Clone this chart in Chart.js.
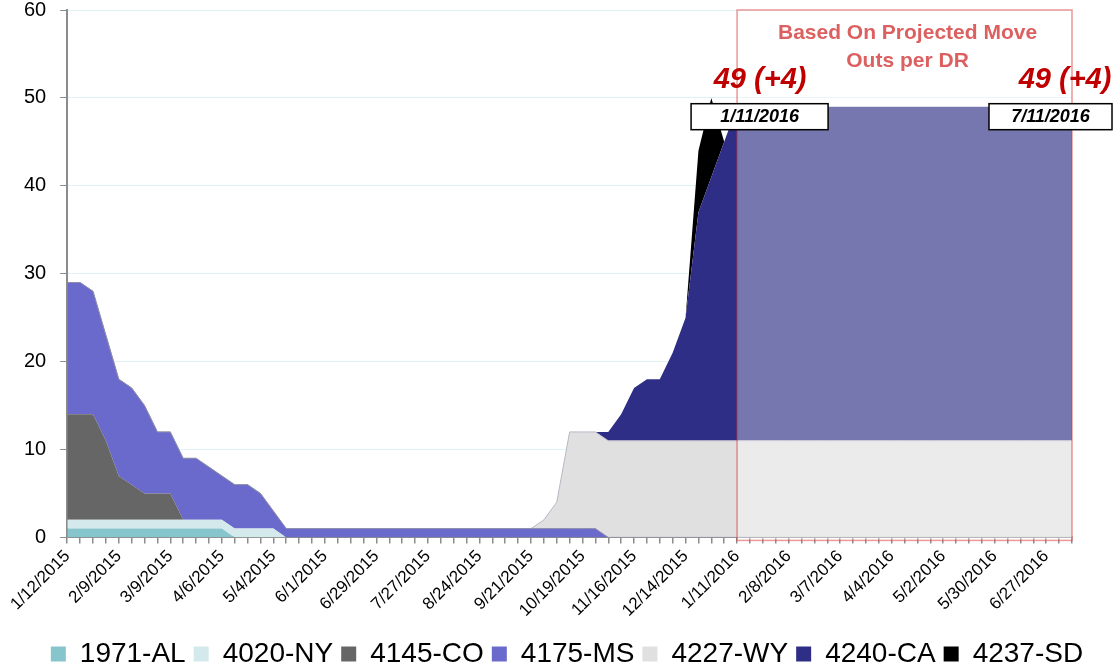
<!DOCTYPE html>
<html>
<head>
<meta charset="utf-8">
<title>Move Outs</title>
<script src="https://cdn.jsdelivr.net/npm/chart.js@4.4.1/dist/chart.umd.min.js"></script>
<style>
    html, body { margin: 0; padding: 0; background: #fff; }
    #wrap { width: 1114px; height: 670px; }
</style>
</head>
<body>
<div id="wrap"><canvas id="moveOutChart" width="1114" height="670"></canvas></div>
<script>
// Weekly categories (one per week)
const weeks = [
    '1/12/2015','1/19/2015','1/26/2015','2/2/2015','2/9/2015','2/16/2015','2/23/2015','3/2/2015','3/9/2015','3/16/2015',
    '3/23/2015','3/30/2015','4/6/2015','4/13/2015','4/20/2015','4/27/2015','5/4/2015','5/11/2015','5/18/2015','5/25/2015',
    '6/1/2015','6/8/2015','6/15/2015','6/22/2015','6/29/2015','7/6/2015','7/13/2015','7/20/2015','7/27/2015','8/3/2015',
    '8/10/2015','8/17/2015','8/24/2015','8/31/2015','9/7/2015','9/14/2015','9/21/2015','9/28/2015','10/5/2015','10/12/2015',
    '10/19/2015','10/26/2015','11/2/2015','11/9/2015','11/16/2015','11/23/2015','11/30/2015','12/7/2015','12/14/2015','12/21/2015',
    '12/28/2015','1/4/2016','1/11/2016','1/18/2016','1/25/2016','2/1/2016','2/8/2016','2/15/2016','2/22/2016','2/29/2016',
    '3/7/2016','3/14/2016','3/21/2016','3/28/2016','4/4/2016','4/11/2016','4/18/2016','4/25/2016','5/2/2016','5/9/2016',
    '5/16/2016','5/23/2016','5/30/2016','6/6/2016','6/13/2016','6/20/2016','6/27/2016','7/4/2016','7/11/2016'
];

// Series values (weekly counts)
const al = [
    1,1,1,1,1,1,1,1,1,1,
    1,1,1,0,0,0,0,0,0,0,
    0,0,0,0,0,0,0,0,0,0,
    0,0,0,0,0,0,0,0,0,0,
    0,0,0,0,0,0,0,0,0,0,
    0,0,0,0,0,0,0,0,0,0,
    0,0,0,0,0,0,0,0,0,0,
    0,0,0,0,0,0,0,0,0
];
const ny = [
    1,1,1,1,1,1,1,1,1,1,
    1,1,1,1,1,1,1,0,0,0,
    0,0,0,0,0,0,0,0,0,0,
    0,0,0,0,0,0,0,0,0,0,
    0,0,0,0,0,0,0,0,0,0,
    0,0,0,0,0,0,0,0,0,0,
    0,0,0,0,0,0,0,0,0,0,
    0,0,0,0,0,0,0,0,0
];
const co = [
    12,12,12,9,5,4,3,3,3,0,
    0,0,0,0,0,0,0,0,0,0,
    0,0,0,0,0,0,0,0,0,0,
    0,0,0,0,0,0,0,0,0,0,
    0,0,0,0,0,0,0,0,0,0,
    0,0,0,0,0,0,0,0,0,0,
    0,0,0,0,0,0,0,0,0,0,
    0,0,0,0,0,0,0,0,0
];
const ms = [
    15,15,14,12,11,11,10,7,7,7,
    7,6,5,5,5,4,2,1,1,1,
    1,1,1,1,1,1,1,1,1,1,
    1,1,1,1,1,1,1,1,1,1,
    1,1,0,0,0,0,0,0,0,0,
    0,0,0,0,0,0,0,0,0,0,
    0,0,0,0,0,0,0,0,0,0,
    0,0,0,0,0,0,0,0,0
];
const wy = [
    0,0,0,0,0,0,0,0,0,0,
    0,0,0,0,0,0,0,0,0,0,
    0,0,0,0,0,0,0,0,0,0,
    0,0,0,0,0,0,0,1,3,11,
    11,11,11,11,11,11,11,11,11,11,
    11,11,11,11,11,11,11,11,11,11,
    11,11,11,11,11,11,11,11,11,11,
    11,11,11,11,11,11,11,11,11
];
const ca = [
    0,0,0,0,0,0,0,0,0,0,
    0,0,0,0,0,0,0,0,0,0,
    0,0,0,0,0,0,0,0,0,0,
    0,0,0,0,0,0,0,0,0,0,
    0,0,1,3,6,7,7,10,14,26,
    30,34,38,38,38,38,38,38,38,38,
    38,38,38,38,38,38,38,38,38,38,
    38,38,38,38,38,38,38,38,38
];
const sd = [
    0,0,0,0,0,0,0,0,0,0,
    0,0,0,0,0,0,0,0,0,0,
    0,0,0,0,0,0,0,0,0,0,
    0,0,0,0,0,0,0,0,0,0,
    0,0,0,0,0,0,0,0,0,7,
    9,0,0,0,0,0,0,0,0,0,
    0,0,0,0,0,0,0,0,0,0,
    0,0,0,0,0,0,0,0,0
];

const seriesNames = ['1971-AL', '4020-NY', '4145-CO', '4175-MS', '4227-WY', '4240-CA', '4237-SD'];
const yTicks = [0, 10, 20, 30, 40, 50, 60];

// Projection window + callouts
const projStart = 52;             // index of 1/11/2016
const projEnd = weeks.length - 1; // 7/11/2016
const calloutTotal = '49 (+4)';

const FONT = '"Liberation Sans", Arial, sans-serif';

const fills = ['#86c5cc', '#d4e9ec', '#666666', '#6a6acc', '#e0e0e0', '#2e2e86', '#000000'];
const edges = ['transparent', 'transparent', 'transparent', '#8e8eaa', '#b8b8c6', 'transparent', 'transparent'];
const series = [al, ny, co, ms, wy, ca, sd];

const datasets = series.map((data, i) => ({
    label: seriesNames[i],
    data: data,
    backgroundColor: fills[i],
    borderColor: edges[i],
    borderWidth: edges[i] === 'transparent' ? 0 : 1,
    fill: i === 0 ? 'origin' : '-1',
    pointRadius: 0,
    tension: 0
}));

// Draws the lightened "projected" window over the areas
const projectionBox = {
    id: 'projectionBox',
    afterLayout(chart) {
        // nudge legend to sit under the plot like the original
        const lg = chart.legend;
        lg.left += 26; lg.right += 26;
        lg.top += 8; lg.bottom += 8;
    },
    afterDatasetsDraw(chart) {
        const { ctx, scales: { x, y } } = chart;
        const left = x.getPixelForValue(projStart);
        const right = x.getPixelForValue(projEnd);
        const top = y.getPixelForValue(60);
        const bottom = y.getPixelForValue(0) + 3;
        ctx.save();
        ctx.fillStyle = 'rgba(255,255,255,0.35)';
        ctx.fillRect(left, top, right - left, bottom - top);
        ctx.strokeStyle = 'rgba(220,50,50,0.5)';
        ctx.lineWidth = 1.5;
        ctx.strokeRect(left, top, right - left, bottom - top);

        ctx.fillStyle = '#dc6060';
        ctx.font = 'bold 21px ' + FONT;
        ctx.textAlign = 'center';
        ctx.textBaseline = 'middle';
        const cx = (left + right) / 2 + 3;
        ctx.fillText('Based On Projected Move', cx, top + 23);
        ctx.fillText('Outs per DR', cx, top + 51);
        ctx.restore();
    },
    afterDraw(chart) {
        const { ctx, scales: { x, y } } = chart;
        const yTop = y.getPixelForValue(49);
        const callouts = [
            { idx: projStart, textX: 23, boxL: -46, boxR: 91 },
            { idx: projEnd, textX: -7, boxL: -83, boxR: 40 }
        ];
        ctx.save();
        callouts.forEach(c => {
            const px = x.getPixelForValue(c.idx);
            ctx.font = 'italic bold 29px ' + FONT;
            ctx.fillStyle = '#c00000';
            ctx.textAlign = 'center';
            ctx.textBaseline = 'alphabetic';
            ctx.fillText(calloutTotal, px + c.textX, yTop - 19);

            const bl = px + c.boxL, br = px + c.boxR;
            ctx.fillStyle = '#fff';
            ctx.fillRect(bl, yTop - 3, br - bl, 26);
            ctx.strokeStyle = '#000';
            ctx.lineWidth = 1.5;
            ctx.strokeRect(bl, yTop - 3, br - bl, 26);
            ctx.font = 'italic bold 18px ' + FONT;
            ctx.fillStyle = '#000';
            ctx.textBaseline = 'middle';
            ctx.fillText(weeks[c.idx], (bl + br) / 2, yTop + 10.5);
        });
        ctx.restore();
    }
};

new Chart(document.getElementById('moveOutChart'), {
    type: 'line',
    data: { labels: weeks, datasets: datasets },
    options: {
        responsive: false,
        animation: false,
        layout: { padding: { top: 0, right: 42, left: 10, bottom: 0 } },
        plugins: {
            legend: {
                position: 'bottom',
                labels: {
                    boxWidth: 15,
                    boxHeight: 15,
                    padding: 8,
                    color: '#000',
                    font: { size: 28, family: FONT },
                    generateLabels: chart => Chart.defaults.plugins.legend.labels.generateLabels(chart)
                        .map(l => ({ ...l, lineWidth: 0, strokeStyle: 'transparent' }))
                }
            },
            tooltip: { enabled: false }
        },
        scales: {
            x: {
                grid: { display: true, drawOnChartArea: false, tickLength: 6, color: '#8c8c8c', lineWidth: 1.5 },
                border: { color: '#8c8c8c', width: 2 },
                ticks: {
                    autoSkip: false,
                    minRotation: 45,
                    maxRotation: 45,
                    padding: 3,
                    color: '#000',
                    font: { size: 17, family: FONT },
                    callback: (v, i) => (i % 4 === 0 ? weeks[i] : '')
                }
            },
            y: {
                stacked: true,
                min: yTicks[0],
                max: yTicks[yTicks.length - 1],
                ticks: { stepSize: 10, color: '#000', padding: 14, font: { size: 20, family: FONT } },
                grid: { color: '#dff3f6', tickColor: '#8c8c8c', tickLength: 7 },
                border: { color: '#8c8c8c', width: 2 },
                afterFit: scale => { scale.paddingTop = 10; }
            }
        }
    },
    plugins: [projectionBox]
});
</script>
</body>
</html>
